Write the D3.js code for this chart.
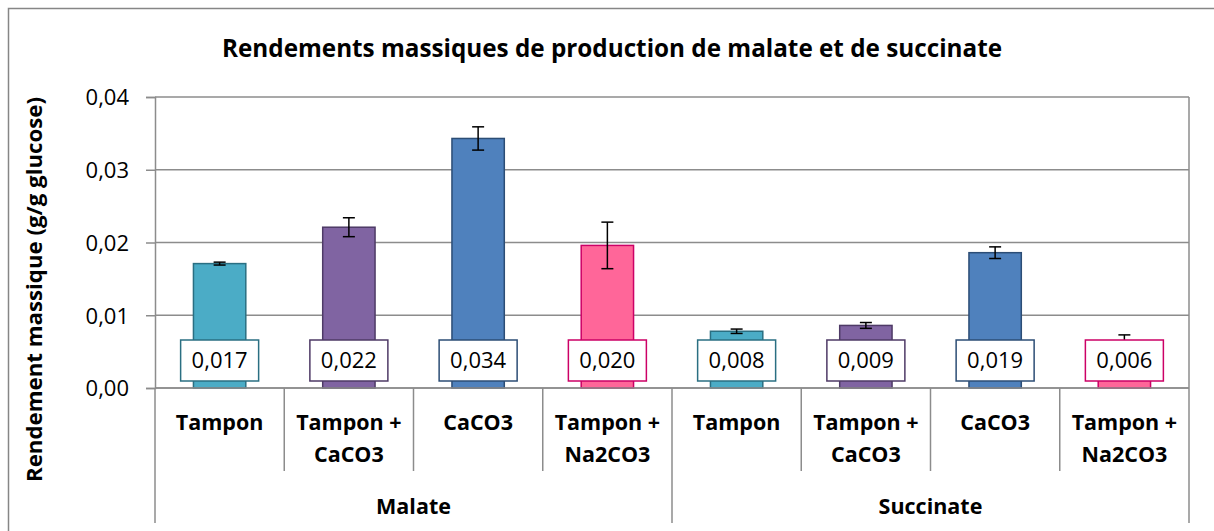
<!DOCTYPE html>
<html>
<head>
<meta charset="utf-8">
<script src="https://cdn.jsdelivr.net/npm/d3@7"></script>
<style>
  html, body { margin: 0; padding: 0; background: #ffffff; overflow: hidden; }
  svg { display: block; }
  text { font-family: "Open Sans", "Noto Sans", sans-serif; fill: #000; }
</style>
</head>
<body>
<svg id="chart" width="1214" height="531"></svg>
<script>
// Conditions tested for each acid (labels split over lines)
const conditions = [["Tampon"], ["Tampon +", "CaCO3"], ["CaCO3"], ["Tampon +", "Na2CO3"]];
const acids = ["Malate", "Succinate"];

// Mass yields (g/g glucose) and standard deviations, in condition order
const malateValues   = [0.0171, 0.0221, 0.0343, 0.0196];
const malateErrors   = [0.0002, 0.0013, 0.0016, 0.0032];
const succinateValues = [0.0078, 0.0086, 0.0186, 0.0062];
const succinateErrors = [0.0003, 0.0004, 0.0008, 0.0011];

const yTicks = [0, 0.01, 0.02, 0.03, 0.04];

const fills   = ["#4BACC6", "#8064A2", "#4F81BD", "#FF6699"];
const strokes = ["#2A6F82", "#4E3A66", "#2C4D75", "#CC0066"];

const bars = [];
acids.forEach((acid, g) => {
  const vals = g === 0 ? malateValues : succinateValues;
  const errs = g === 0 ? malateErrors : succinateErrors;
  conditions.forEach((cond, c) => {
    bars.push({ id: g * conditions.length + c, acid, cond, c, value: vals[c], err: errs[c] });
  });
});

const svg = d3.select("#chart");
const plotLeft = 155, plotRight = 1189, plotTop = 97, plotBottom = 388;
const grid = "#8c8c8c";

const fr = d3.formatLocale({ decimal: ",", thousands: " ", grouping: [3], currency: ["", " €"] });
const tickFmt = fr.format(".2f");
const valFmt = fr.format(".3f");

// Outer chart frame (left and top edges fall inside the view)
svg.append("path")
  .attr("d", "M8.5,531 V8.5 H1214")
  .attr("fill", "none").attr("stroke", "#868686").attr("stroke-width", 1.5);

const x = d3.scaleBand().domain(bars.map(d => d.id)).range([plotLeft, plotRight]).padding(0);
const y = d3.scaleLinear().domain([0, 0.04]).range([plotBottom, plotTop]);
const barW = x.bandwidth() * 0.405;

// Title
svg.append("text")
  .attr("x", 612).attr("y", 57)
  .attr("text-anchor", "middle")
  .attr("font-weight", "bold").attr("font-size", 25)
  .attr("textLength", 780).attr("lengthAdjust", "spacingAndGlyphs")
  .text("Rendements massiques de production de malate et de succinate");

// Horizontal gridlines
svg.append("g").selectAll("line").data(yTicks).join("line")
  .attr("x1", plotLeft).attr("x2", plotRight)
  .attr("y1", d => y(d)).attr("y2", d => y(d))
  .attr("stroke", grid).attr("stroke-width", 1.5);

// Right border of the plot area
svg.append("line")
  .attr("x1", plotRight).attr("x2", plotRight).attr("y1", plotTop).attr("y2", plotBottom)
  .attr("stroke", grid).attr("stroke-width", 1.5);

// Y axis
const yAxis = svg.append("g")
  .attr("transform", `translate(${plotLeft},0)`)
  .call(d3.axisLeft(y).tickValues(yTicks).tickFormat(tickFmt).tickSize(9).tickPadding(17));
yAxis.select(".domain").attr("stroke", grid).attr("stroke-width", 1.5);
yAxis.selectAll(".tick line").attr("stroke", grid).attr("stroke-width", 1.5);
yAxis.selectAll(".tick text")
  .attr("font-family", "Open Sans, sans-serif").attr("font-size", 22).attr("fill", "#000")
  .attr("dy", "0.36em");

// Y axis title
svg.append("text")
  .attr("transform", `translate(42,${(97 + 482) / 2}) rotate(-90)`)
  .attr("text-anchor", "middle")
  .attr("font-weight", "bold").attr("font-size", 22)
  .attr("textLength", 385).attr("lengthAdjust", "spacingAndGlyphs")
  .text("Rendement massique (g/g glucose)");

// Bars
const gBars = svg.append("g");
gBars.selectAll("rect").data(bars).join("rect")
  .attr("x", d => x(d.id) + (x.bandwidth() - barW) / 2)
  .attr("y", d => y(d.value))
  .attr("width", barW)
  .attr("height", d => y(0) - y(d.value))
  .attr("fill", d => fills[d.c])
  .attr("stroke", d => strokes[d.c])
  .attr("stroke-width", 1.5);

// Error bars
const gErr = svg.append("g").attr("stroke", "#000").attr("stroke-width", 1.5);
bars.forEach(d => {
  const cx = x(d.id) + x.bandwidth() / 2;
  const y1 = y(d.value + d.err), y2 = y(d.value - d.err);
  gErr.append("line").attr("x1", cx).attr("x2", cx).attr("y1", y1).attr("y2", y2);
  gErr.append("line").attr("x1", cx - 6).attr("x2", cx + 6).attr("y1", y1).attr("y2", y1);
  gErr.append("line").attr("x1", cx - 6).attr("x2", cx + 6).attr("y1", y2).attr("y2", y2);
});

// Value labels in boxes at the base of each bar
const gLab = svg.append("g");
bars.forEach(d => {
  const cx = x(d.id) + x.bandwidth() / 2;
  gLab.append("rect")
    .attr("x", cx - 39).attr("y", 340).attr("width", 78).attr("height", 41)
    .attr("fill", "#fff").attr("stroke", strokes[d.c]).attr("stroke-width", 1.5);
  gLab.append("text")
    .attr("x", cx).attr("y", 368)
    .attr("text-anchor", "middle").attr("font-size", 22)
    .text(valFmt(d.value));
});

// Baseline over bars
svg.append("line")
  .attr("x1", plotLeft).attr("x2", plotRight).attr("y1", plotBottom).attr("y2", plotBottom)
  .attr("stroke", grid).attr("stroke-width", 1.5);

// Category separators and labels
const gCat = svg.append("g");
bars.forEach(d => {
  const x0 = x(d.id);
  const isGroupEdge = d.c === 0;
  gCat.append("line")
    .attr("x1", x0).attr("x2", x0)
    .attr("y1", plotBottom).attr("y2", isGroupEdge ? 523 : 471)
    .attr("stroke", grid).attr("stroke-width", 1.5);
  const t = gCat.append("text")
    .attr("text-anchor", "middle").attr("font-weight", "bold").attr("font-size", 21.5);
  d.cond.forEach((line, li) => {
    t.append("tspan").attr("x", x0 + x.bandwidth() / 2).attr("y", 430 + li * 32).text(line);
  });
});
gCat.append("line")
  .attr("x1", plotRight).attr("x2", plotRight).attr("y1", plotBottom).attr("y2", 523)
  .attr("stroke", grid).attr("stroke-width", 1.5);

// Acid group labels
acids.forEach(acid => {
  const ids = bars.filter(b => b.acid === acid).map(b => b.id);
  const x0 = x(ids[0]), x1 = x(ids[ids.length - 1]) + x.bandwidth();
  svg.append("text")
    .attr("x", (x0 + x1) / 2).attr("y", 514)
    .attr("text-anchor", "middle").attr("font-weight", "bold").attr("font-size", 21.5)
    .text(acid);
});
</script>
</body>
</html>
